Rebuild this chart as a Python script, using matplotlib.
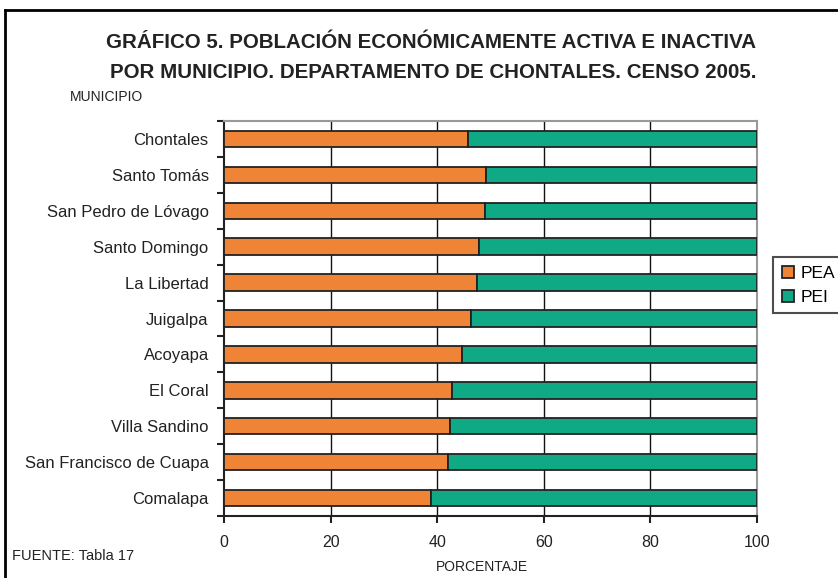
import matplotlib
matplotlib.use("Agg")
import matplotlib.pyplot as plt
import numpy as np

plt.rcParams['font.family'] = ['Liberation Sans', 'DejaVu Sans']

municipios = ["Chontales", "Santo Tomás", "San Pedro de Lóvago", "Santo Domingo",
              "La Libertad", "Juigalpa", "Acoyapa", "El Coral", "Villa Sandino",
              "San Francisco de Cuapa", "Comalapa"]
pea = [45.7, 49.2, 48.9, 47.8, 47.5, 46.4, 44.6, 42.8, 42.4, 42.1, 38.8]
pei = [100 - v for v in pea]
xticks = [0, 20, 40, 60, 80, 100]

W, H = 838, 578
fig = plt.figure(figsize=(W / 100, H / 100), dpi=100)

# figure frame
fig.add_artist(plt.Line2D([5 / W, 5 / W], [0, 1 - 10 / H], color='black', lw=2))
fig.add_artist(plt.Line2D([5 / W, 1], [1 - 10 / H, 1 - 10 / H], color='black', lw=2))

left, right, top, bottom = 224, 757, 121, 516
ax = fig.add_axes([left / W, 1 - bottom / H, (right - left) / W, (bottom - top) / H])

n = len(municipios)
y = np.arange(n)[::-1]
h = 0.46
ax.barh(y, pea, height=h, color='#F08436', edgecolor='#222222', lw=1.3, label='PEA', zorder=3)
ax.barh(y, pei, left=pea, height=h, color='#0FA985', edgecolor='#222222', lw=1.3, label='PEI', zorder=3)

ax.set_xlim(0, 100)
ax.set_ylim(-0.5, n - 0.5)
ax.set_xticks(xticks)
ax.set_xticklabels([str(v) for v in xticks], fontsize=11.5, color='#222222')
ax.set_yticks(y)
ax.set_yticklabels(municipios, fontsize=12, color='#222222')
ax.tick_params(axis='y', length=0, pad=11)
ax.set_yticks(np.arange(-0.5, n, 1), minor=True)
ax.tick_params(axis='y', which='minor', length=5, width=1.5, color='#222222')
ax.tick_params(axis='x', length=5, width=1.5, color='#222222', pad=9)

for v in [20, 40, 60, 80]:
    ax.axvline(v, color='#111111', lw=1, zorder=1)

ax.spines['left'].set_color('#222222')
ax.spines['left'].set_linewidth(1.5)
ax.spines['bottom'].set_color('#222222')
ax.spines['bottom'].set_linewidth(1.5)
ax.spines['right'].set_color('#999999')
ax.spines['right'].set_linewidth(1.5)
ax.spines['top'].set_color('#999999')
ax.spines['top'].set_linewidth(1.5)

fig.text(431 / W, 1 - 43 / H, "GRÁFICO 5. POBLACIÓN ECONÓMICAMENTE ACTIVA E INACTIVA",
         ha='center', va='center', fontsize=14.8, fontweight='bold', color='#222222')
fig.text(433 / W, 1 - 72 / H, "POR MUNICIPIO. DEPARTAMENTO DE CHONTALES. CENSO 2005.",
         ha='center', va='center', fontsize=14.8, fontweight='bold', color='#222222')
fig.text(70 / W, 1 - 97 / H, "MUNICIPIO", ha='left', va='center', fontsize=10, color='#222222')
fig.text(12 / W, 1 - 556 / H, "FUENTE: Tabla 17", ha='left', va='center', fontsize=10.5, color='#222222')
fig.text(482 / W, 1 - 567 / H, "PORCENTAJE", ha='center', va='center', fontsize=10, color='#222222')

leg = fig.legend(loc='upper left', bbox_to_anchor=(773 / W, 1 - 257 / H), fontsize=12.5,
                 frameon=True, fancybox=False, edgecolor='#222222', handlelength=0.7,
                 handleheight=0.7, handletextpad=0.4, borderpad=0.5, labelspacing=0.5,
                 borderaxespad=0)
leg.get_frame().set_linewidth(1.5)

fig.savefig("out.png", dpi=100)
